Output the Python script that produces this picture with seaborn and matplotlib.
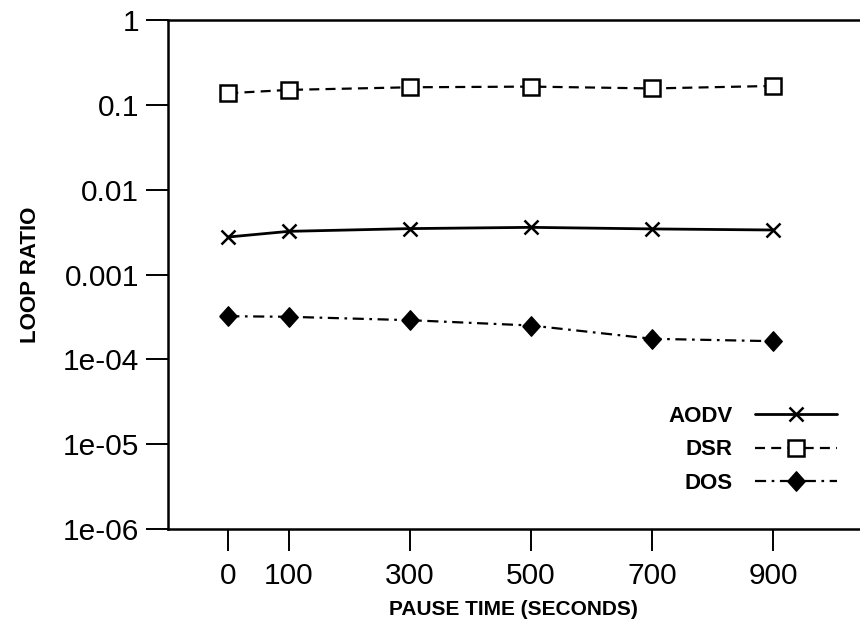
import matplotlib
matplotlib.use("Agg")
import matplotlib.pyplot as plt
import seaborn as sns
import pandas as pd

pause_time = [0, 100, 300, 500, 700, 900]
aodv = [0.00277, 0.00323, 0.00348, 0.00360, 0.00345, 0.00335]
dsr = [0.137, 0.150, 0.161, 0.164, 0.156, 0.167]
dos = [3.23e-4, 3.18e-4, 2.90e-4, 2.51e-4, 1.75e-4, 1.64e-4]
series_names = ["AODV", "DSR", "DOS"]
x_ticks = [0, 100, 300, 500, 700, 900]
y_ticks = [1, 0.1, 0.01, 0.001, 1e-4, 1e-5, 1e-6]
y_tick_labels = ["1", "0.1", "0.01", "0.001", "1e-04", "1e-05", "1e-06"]

sns.set_theme(style="ticks")
plt.rcParams["font.family"] = ["Liberation Sans", "DejaVu Sans"]
plt.rcParams["text.color"] = "black"
plt.rcParams["axes.labelcolor"] = "black"
label_font = ["Liberation Sans", "DejaVu Sans"]

fig = plt.figure(figsize=(8.6, 6.36), dpi=100)
ax = fig.add_axes([0.195, 0.168, 0.805, 0.8006])

df = pd.DataFrame({"x": pause_time, "AODV": aodv, "DSR": dsr, "DOS": dos})
diamond = [(-0.45, 0.0), (0.0, 0.5), (0.45, 0.0), (0.0, -0.5), (-0.45, 0.0)]
styles = {
    "AODV": dict(linestyle="-", marker="x", markersize=10.5, markeredgewidth=1.8,
                 linewidth=2.0, markerfacecolor="black"),
    "DSR": dict(linestyle=(0, (4.5, 2.8)), marker="s", markersize=11, markeredgewidth=1.8,
                linewidth=1.6, markerfacecolor="white"),
    "DOS": dict(linestyle=(0, (5, 2.5, 1.2, 2.5)), marker=diamond, markersize=14,
                markeredgewidth=1.0, linewidth=1.6, markerfacecolor="black"),
}
for name in series_names:
    sns.lineplot(data=df, x="x", y=name, ax=ax, color="black", label=name,
                 markeredgecolor="black", **styles[name])

ax.set_yscale("log")
ax.set_ylim(1e-6, 1)
ax.set_xlim(-100, 1043)
ax.set_yticks(y_ticks, labels=y_tick_labels)
ax.set_xticks(x_ticks, labels=[str(v) for v in x_ticks])
ax.minorticks_off()
ax.tick_params(axis="both", which="major", direction="out", length=15.5, width=1.4,
               colors="black", labelsize=21.5, bottom=True, left=True,
               top=False, right=False)
ax.tick_params(axis="x", pad=8)
ax.tick_params(axis="y", pad=5)
for side in ["left", "bottom", "top"]:
    ax.spines[side].set_visible(True)
    ax.spines[side].set_color("black")
    ax.spines[side].set_linewidth(1.8)
ax.spines["right"].set_visible(False)
ax.grid(False)

ax.set_xlabel("PAUSE TIME (SECONDS)", fontsize=15, fontweight="bold", family=label_font,
              labelpad=7, color="black")
ax.set_ylabel("LOOP RATIO", fontsize=16, fontweight="bold", family=label_font,
              labelpad=16, color="black")

leg = ax.legend(loc="lower right", bbox_to_anchor=(0.967, 0.07), frameon=False,
                markerfirst=False, handlelength=3.7, handletextpad=1.0,
                borderpad=0, borderaxespad=0, labelspacing=0.55,
                prop=dict(family=label_font, weight="bold", size=16))
for t in leg.get_texts():
    t.set_color("black")

fig.savefig("out.png", dpi=100)
